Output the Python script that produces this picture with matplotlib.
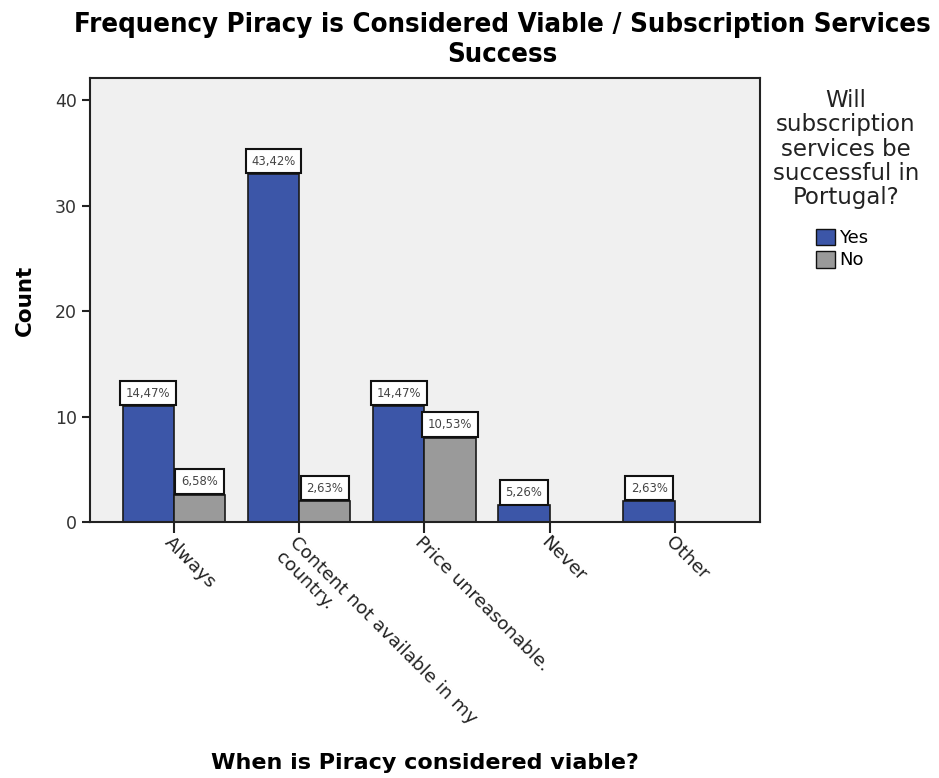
import matplotlib
matplotlib.use("Agg")
import matplotlib.pyplot as plt
from matplotlib import font_manager
from matplotlib.patches import Patch
import numpy as np

categories = ["Always", "Content not available in my\ncountry.", "Price unreasonable.", "Never", "Other"]
yes_counts = [11, 33, 11, 1.6, 2]
no_counts = [2.6, 2, 8, 0, 0]
yes_labels = ["14,47%", "43,42%", "14,47%", "5,26%", "2,63%"]
no_labels = ["6,58%", "2,63%", "10,53%", None, None]
series_names = ["Yes", "No"]
yticks = [0, 10, 20, 30, 40]

YES_COLOR = "#3c56a8"
NO_COLOR = "#9a9a9a"
BG = "#f0f0f0"


def narrow_bold_font():
    """Pick a condensed/narrow bold face for the title, if one is installed."""
    names = [(f.name, f.stretch, f.weight, f.fname) for f in font_manager.fontManager.ttflist]
    for name, stretch, weight, fname in names:
        low = (name + " " + str(stretch) + " " + fname).lower()
        if ("narrow" in low or "condensed" in low) and ("bold" in fname.lower() or weight in ("bold", 700)):
            return font_manager.FontProperties(fname=fname)
    return font_manager.FontProperties(family="DejaVu Sans", weight="bold")


fig = plt.figure(figsize=(9.39, 7.78), dpi=100)
ax = fig.add_axes([90 / 939, 1 - 522 / 778, (760 - 90) / 939, (522 - 78) / 778])
ax.set_facecolor(BG)

x = np.arange(len(categories))
w = 0.41
bars_yes = ax.bar(x - w / 2, yes_counts, w, color=YES_COLOR, edgecolor="#1a1a1a", linewidth=1.2, zorder=2)
bars_no = ax.bar(x + w / 2, no_counts, w, color=NO_COLOR, edgecolor="#1a1a1a", linewidth=1.2, zorder=2)


def label_bars(bars, labels):
    for b, lab in zip(bars, labels):
        if lab is None:
            continue
        ax.annotate(lab, (b.get_x() + b.get_width() / 2, b.get_height()),
                    xytext=(0, 4.6), textcoords="offset points",
                    ha="center", va="bottom", fontsize=8.4, color="#444444",
                    family="DejaVu Sans", zorder=4,
                    bbox=dict(boxstyle="square,pad=0.5", fc="white", ec="#111111", lw=1.5))


label_bars(bars_yes, yes_labels)
label_bars(bars_no, no_labels)

ax.set_xlim(-0.67, 4.68)
ax.set_ylim(0, 42.1)
ax.set_yticks(yticks)
ax.tick_params(axis="y", labelsize=12.5, length=6, width=1.5, colors="#222222", labelcolor="#333333")
ax.set_xticks(x)
ax.set_xticklabels(categories, rotation=-45, ha="left", va="top", rotation_mode="anchor",
                   fontsize=13.3, color="#222222", multialignment="left")
ax.tick_params(axis="x", length=8, width=1.5, colors="#222222", pad=0)
for s in ax.spines.values():
    s.set_linewidth(1.5)
    s.set_color("#222222")

ax.set_ylabel("Count", fontsize=15.5, fontweight="bold")
ax.yaxis.set_label_coords(-0.083, 0.5)
fig.text(425 / 939, 1 - 763 / 778, "When is Piracy considered viable?", ha="center", va="center",
         fontsize=16, fontweight="bold")

title_fp = narrow_bold_font()
title_fp.set_size(21)
title = fig.text(502 / 939, 1 - 12 / 778,
                 "Frequency Piracy is Considered Viable / Subscription Services\nSuccess",
                 ha="center", va="top", fontproperties=title_fp, linespacing=1.22)
# shrink the title until its first line fits the available width
renderer = fig.canvas.get_renderer()
for _ in range(40):
    bb = title.get_window_extent(renderer)
    if bb.width <= 865:
        break
    title.set_fontsize(title.get_fontsize() * 0.98)

fig.text(846 / 939, 1 - 89 / 778, "Will\nsubscription\nservices be\nsuccessful in\nPortugal?",
         ha="center", va="top", fontsize=16.5, color="#222222", multialignment="center", linespacing=1.07)

handles = [Patch(facecolor=YES_COLOR, edgecolor="#111111", label=series_names[0]),
           Patch(facecolor=NO_COLOR, edgecolor="#111111", label=series_names[1])]
fig.legend(handles=handles, loc="upper left", bbox_to_anchor=(803 / 939, 1 - 216 / 778),
           frameon=False, fontsize=13, handlelength=1.05, handleheight=1.05, handletextpad=0.25,
           labelspacing=0.2, borderpad=0.2)

fig.savefig("out.png", dpi=100)
